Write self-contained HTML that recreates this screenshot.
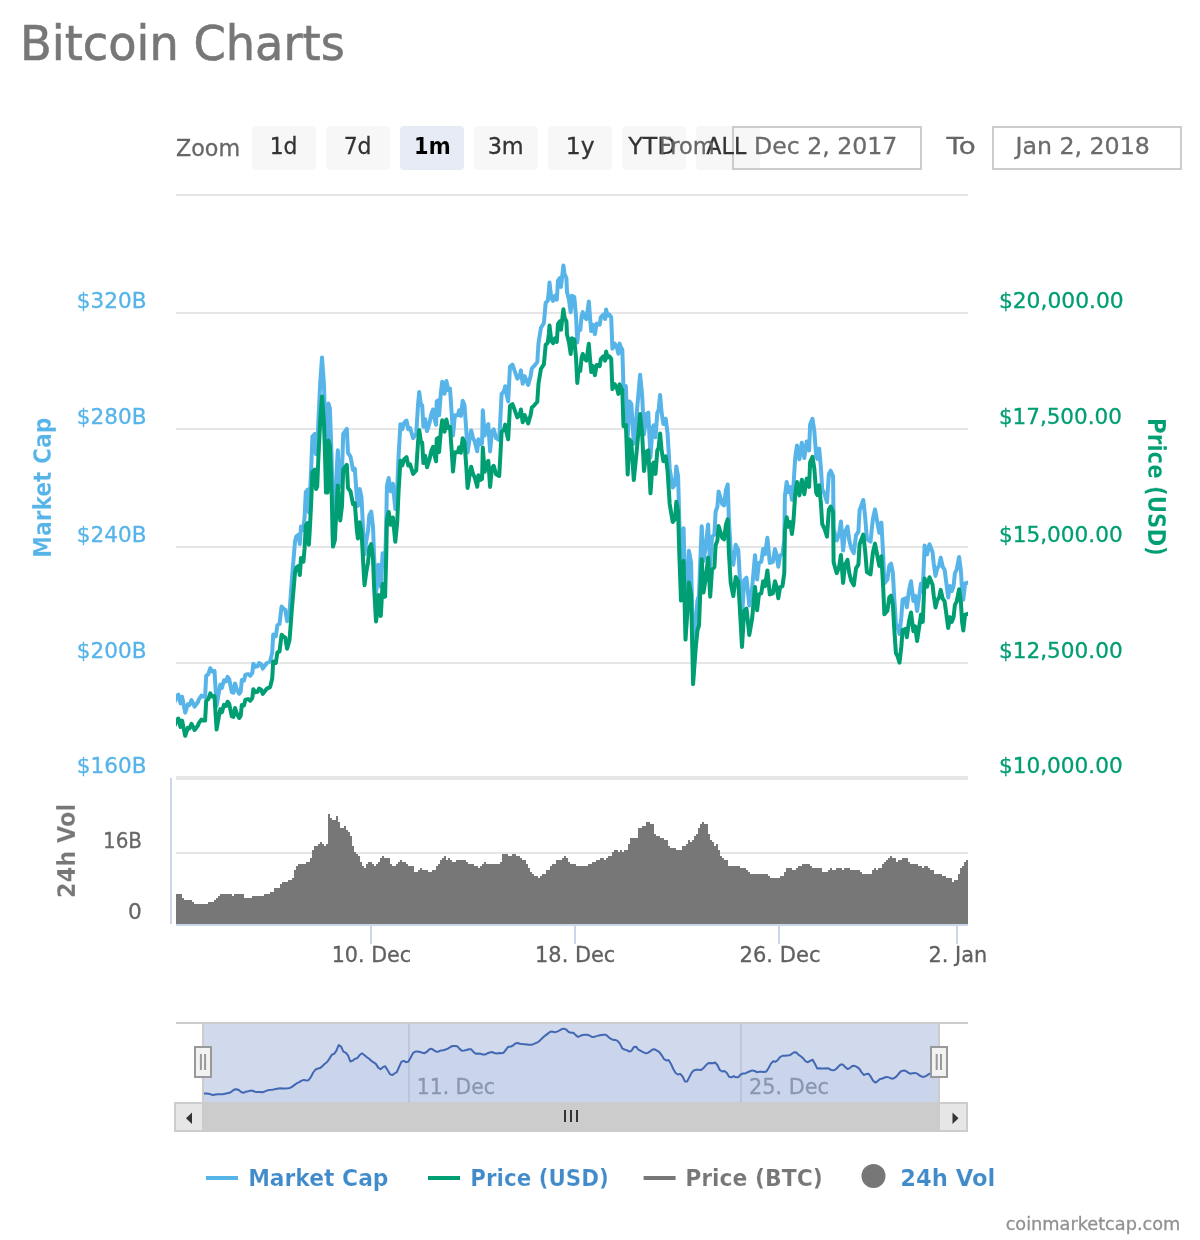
<!DOCTYPE html>
<html lang="en"><head><meta charset="utf-8"><title>Bitcoin Charts</title>
<style>html,body{margin:0;padding:0;background:#fff}svg{display:block;will-change:transform;transform:translateZ(0)}</style></head>
<body>
<svg role="img" aria-label="Bitcoin Charts" width="1200" height="1240" viewBox="0 0 1200 1240" font-family="'DejaVu Sans','Liberation Sans',sans-serif">
<rect width="1200" height="1240" fill="#fff"/>
<g id="rs"><rect x="252" y="126" width="64" height="44" rx="4" fill="#f7f7f7"/><rect x="326" y="126" width="64" height="44" rx="4" fill="#f7f7f7"/><rect x="400" y="126" width="64" height="44" rx="4" fill="#e6ebf5"/><rect x="474" y="126" width="64" height="44" rx="4" fill="#f7f7f7"/><rect x="548" y="126" width="64" height="44" rx="4" fill="#f7f7f7"/><rect x="622" y="126" width="64" height="44" rx="4" fill="#f7f7f7"/><rect x="696" y="126" width="64" height="44" rx="4" fill="#f7f7f7"/>
<rect x="733" y="127" width="188" height="42" fill="none" stroke="#ccc" stroke-width="2"/>
<rect x="993" y="127" width="188" height="42" fill="none" stroke="#ccc" stroke-width="2"/>
</g>
<g id="grid"><rect x="176" y="194" width="792" height="2" fill="#e6e6e6"/><rect x="176" y="312" width="792" height="2" fill="#e6e6e6"/><rect x="176" y="428" width="792" height="2" fill="#e6e6e6"/><rect x="176" y="546" width="792" height="2" fill="#e6e6e6"/><rect x="176" y="662" width="792" height="2" fill="#e6e6e6"/><rect x="176" y="776" width="792" height="4" fill="#e6e6e6"/><rect x="176" y="852" width="792" height="2" fill="#e6e6e6"/></g>
<rect x="170" y="778" width="2" height="146" fill="#ccd6eb"/>
<path d="M176 924V894H178V894H180V894H182V898H184V900H186V900H188V900H190V900H192V902H194V904H196V904H198V904H200V904H202V904H204V904H206V904H208V902H210V902H212V902H214V900H216V898H218V896H220V894H222V894H224V894H226V894H228V894H230V894H232V896H234V894H236V894H238V894H240V894H242V894H244V898H246V898H248V898H250V898H252V896H254V896H256V896H258V896H260V896H262V896H264V894H266V894H268V894H270V892H272V892H274V888H276V888H278V888H280V884H282V882H284V882H286V882H288V880H290V880H292V878H294V870H296V866H298V864H300V864H302V864H304V864H306V862H308V862H310V858H312V850H314V846H316V846H318V844H320V842H322V844H324V846H326V844H328V814H330V818H332V820H334V820H336V816H338V822H340V828H342V828H344V826H346V830H348V832H350V836H352V846H354V852H356V854H358V856H360V862H362V866H364V868H366V864H368V862H370V862H372V864H374V866H376V864H378V862H380V858H382V856H384V858H386V858H388V858H390V864H392V866H394V866H396V864H398V862H400V860H402V862H404V862H406V864H408V866H410V866H412V866H414V872H416V872H418V870H420V868H422V870H424V870H426V870H428V872H430V872H432V870H434V870H436V866H438V864H440V860H442V858H444V856H446V860H448V858H450V860H452V862H454V862H456V860H458V860H460V860H462V860H464V860H466V862H468V864H470V864H472V864H474V866H476V866H478V868H480V866H482V864H484V862H486V864H488V864H490V864H492V864H494V864H496V864H498V864H500V862H502V854H504V854H506V854H508V856H510V856H512V854H514V854H516V856H518V856H520V858H522V860H524V860H526V864H528V868H530V872H532V874H534V876H536V876H538V878H540V876H542V874H544V874H546V870H548V870H550V866H552V864H554V864H556V860H558V860H560V860H562V858H564V856H566V858H568V862H570V864H572V864H574V864H576V866H578V866H580V866H582V866H584V866H586V866H588V864H590V864H592V862H594V862H596V860H598V860H600V858H602V858H604V860H606V858H608V856H610V856H612V852H614V850H616V850H618V852H620V850H622V852H624V850H626V850H628V844H630V838H632V838H634V838H636V838H638V828H640V828H642V826H644V826H646V822H648V822H650V824H652V824H654V834H656V836H658V836H660V838H662V838H664V840H666V840H668V846H670V848H672V848H674V848H676V850H678V850H680V850H682V846H684V846H686V844H688V840H690V842H692V840H694V836H696V834H698V828H700V824H702V822H704V824H706V824H708V834H710V840H712V842H714V846H716V844H718V850H720V856H722V858H724V860H726V860H728V866H730V866H732V866H734V866H736V866H738V866H740V868H742V868H744V868H746V870H748V872H750V874H752V874H754V874H756V874H758V874H760V874H762V874H764V874H766V874H768V876H770V878H772V878H774V878H776V878H778V878H780V876H782V876H784V872H786V868H788V868H790V868H792V870H794V870H796V868H798V866H800V866H802V864H804V864H806V864H808V864H810V866H812V868H814V868H816V868H818V868H820V868H822V872H824V872H826V872H828V870H830V868H832V870H834V870H836V868H838V868H840V868H842V870H844V868H846V868H848V868H850V870H852V870H854V870H856V870H858V870H860V872H862V874H864V874H866V874H868V874H870V874H872V870H874V868H876V870H878V868H880V868H882V864H884V862H886V860H888V858H890V856H892V858H894V858H896V862H898V860H900V860H902V858H904V858H906V858H908V862H910V864H912V864H914V864H916V864H918V866H920V866H922V868H924V866H926V866H928V868H930V870H932V870H934V874H936V874H938V874H940V874H942V876H944V876H946V878H948V878H950V878H952V882H954V880H956V880H958V874H960V868H962V866H964V862H966V860H968V924Z" fill="#777"/>
<rect x="176" y="924" width="792" height="2" fill="#ccd6eb"/>
<rect x="370" y="925" width="2" height="19" fill="#ccd6eb"/><rect x="574" y="925" width="2" height="19" fill="#ccd6eb"/><rect x="778" y="925" width="2" height="19" fill="#ccd6eb"/><rect x="956" y="925" width="2" height="19" fill="#ccd6eb"/>
<clipPath id="plot"><rect x="176" y="196" width="792" height="582"/></clipPath>
<g clip-path="url(#plot)">
<path d="M174.0 703.4 L177.3 695.7 L178.4 694.6 L180.5 703.4 L182.1 696.8 L185.2 712.6 L187.8 704.4 L189.4 705.0 L191.5 700.0 L194.6 706.6 L197.8 702.2 L198.8 699.5 L201.4 695.6 L203.5 696.7 L205.1 696.7 L206.2 675.9 L208.3 674.2 L210.3 668.2 L211.9 671.5 L214.5 670.9 L216.6 706.0 L218.7 693.4 L220.3 684.6 L221.9 687.9 L224.0 680.2 L226.1 681.3 L227.6 676.9 L229.2 679.1 L231.8 692.2 L233.4 692.8 L235.0 683.4 L237.1 690.0 L239.2 693.8 L240.7 691.6 L241.8 680.1 L243.9 680.7 L245.5 674.6 L248.1 674.1 L250.2 675.7 L252.3 673.0 L253.3 663.7 L255.4 666.9 L257.5 666.4 L259.1 663.1 L261.2 664.2 L262.7 668.6 L264.8 665.8 L266.9 663.1 L270.1 661.4 L272.2 652.6 L273.2 634.6 L275.8 636.2 L277.4 625.2 L279.5 624.1 L281.6 606.6 L283.7 608.8 L285.3 609.9 L287.1 621.3 L289.5 612.4 L291.9 579.5 L295.0 541.6 L296.2 536.5 L298.6 534.6 L299.8 544.1 L301.0 526.4 L303.4 530.2 L304.6 516.3 L305.8 492.2 L307.6 489.7 L308.9 512.5 L310.1 491.0 L311.3 465.7 L312.4 436.5 L314.8 433.9 L316.0 454.2 L317.2 451.6 L318.4 421.3 L320.2 383.3 L322.0 357.4 L323.9 383.3 L325.1 421.2 L326.0 457.9 L327.5 457.9 L328.5 403.5 L329.9 408.6 L331.7 459.2 L332.6 502.1 L333.0 514.3 L334.9 507.3 L336.6 471.8 L337.8 450.3 L339.0 471.8 L340.2 486.9 L342.0 471.8 L343.2 433.8 L346.8 428.8 L348.0 452.8 L350.5 456.6 L353.0 469.9 L354.8 468.6 L356.7 495.2 L357.9 505.9 L359.7 488.9 L361.5 497.7 L363.3 533.1 L364.5 554.6 L366.3 540.7 L368.1 530.6 L369.3 515.4 L371.2 511.6 L373.0 526.7 L374.2 558.4 L376.0 592.5 L377.2 583.6 L378.4 564.7 L379.6 571.0 L380.8 586.8 L382.6 553.3 L383.9 554.5 L385.1 566.5 L386.3 520.4 L386.9 486.2 L388.7 478.0 L390.5 491.3 L392.9 483.7 L395.3 509.0 L397.2 488.7 L398.6 455.9 L400.4 424.3 L402.3 429.3 L404.1 423.0 L406.5 420.5 L408.3 429.3 L410.1 428.0 L413.1 438.1 L416.2 434.3 L418.0 405.3 L419.2 392.0 L421.0 405.3 L422.2 405.2 L423.4 426.7 L425.2 419.1 L427.0 431.1 L429.5 422.9 L431.3 414.1 L433.1 409.6 L434.3 417.9 L436.1 424.8 L436.7 401.4 L438.5 400.1 L439.1 415.3 L440.9 392.5 L442.2 381.8 L444.6 393.8 L446.4 381.1 L448.2 390.0 L450.0 388.7 L451.8 415.3 L453.0 435.5 L454.9 415.3 L457.9 415.2 L459.1 410.2 L460.9 415.9 L462.7 400.7 L464.5 405.1 L466.3 430.4 L467.6 452.5 L469.4 440.5 L471.2 430.4 L473.0 438.0 L474.8 441.7 L477.2 451.2 L478.4 439.2 L480.2 444.3 L482.1 443.0 L482.8 410.3 L484.7 435.6 L486.5 426.8 L488.3 424.2 L490.1 451.4 L491.9 431.8 L493.7 429.3 L496.1 438.1 L499.2 440.0 L500.4 417.9 L501.6 393.8 L504.0 391.3 L505.2 386.2 L506.4 393.8 L508.2 401.4 L510.0 366.6 L512.5 364.7 L514.3 369.8 L517.3 378.6 L519.7 376.1 L520.9 370.4 L522.7 383.7 L524.6 376.1 L528.2 384.9 L530.6 376.1 L531.8 368.5 L534.2 365.9 L537.3 362.1 L538.5 343.2 L540.9 328.0 L543.9 322.9 L545.7 302.7 L547.7 300.9 L548.9 290.7 L549.5 282.5 L551.3 298.3 L553.1 300.8 L555.0 295.8 L556.8 299.6 L558.0 280.6 L559.8 278.1 L561.0 286.9 L563.4 265.4 L564.6 274.2 L566.4 278.0 L567.0 291.9 L568.9 299.5 L570.7 312.2 L571.9 295.7 L574.3 297.0 L576.1 317.2 L577.3 342.5 L578.5 328.6 L580.3 329.8 L581.6 315.9 L582.8 312.1 L584.6 317.2 L586.4 319.1 L587.6 310.8 L588.8 301.4 L590.0 317.2 L591.2 331.1 L593.0 324.7 L594.9 334.2 L596.7 323.5 L599.7 324.7 L600.9 317.1 L603.3 314.6 L605.1 319.0 L606.1 309.5 L607.6 315.8 L609.4 314.6 L611.2 317.1 L612.4 348.7 L614.8 343.6 L617.2 348.7 L618.4 353.7 L619.6 343.6 L621.5 348.7 L622.3 349.5 L623.5 387.5 L625.9 386.2 L627.7 438.0 L629.5 401.4 L631.3 403.9 L633.8 443.7 L636.2 419.0 L638.0 398.8 L640.1 374.8 L642.2 396.3 L644.0 434.2 L646.5 413.9 L648.3 412.7 L650.5 457.5 L652.5 427.8 L653.7 425.3 L655.5 437.3 L657.3 412.6 L658.6 410.1 L660.1 394.9 L661.6 412.6 L663.4 424.0 L665.8 418.9 L667.6 434.1 L669.7 468.7 L672.7 487.5 L675.1 484.0 L676.3 466.4 L678.1 476.4 L679.3 520.9 L681.0 569.7 L683.6 528.2 L685.5 610.4 L687.5 579.5 L688.9 550.8 L691.1 562.6 L693.1 657.0 L695.7 619.2 L697.5 600.3 L699.0 595.6 L700.3 560.6 L701.7 526.3 L703.5 561.1 L706.0 544.6 L708.1 524.4 L710.2 565.5 L712.0 537.0 L714.4 534.4 L715.6 511.7 L717.4 506.7 L718.6 491.5 L720.5 497.8 L722.3 504.1 L724.1 505.4 L725.9 490.1 L727.7 484.5 L728.9 519.3 L730.7 550.9 L733.3 564.7 L735.7 544.8 L738.3 550.0 L740.3 586.1 L742.0 618.0 L744.2 580.1 L746.5 577.7 L749.3 605.4 L752.1 588.3 L755.0 555.2 L757.1 579.5 L758.9 563.1 L761.3 561.8 L763.1 549.1 L765.0 554.2 L767.4 537.8 L769.8 563.0 L772.8 561.8 L775.0 549.1 L776.4 554.2 L778.3 566.8 L780.1 555.4 L782.5 554.1 L784.3 540.2 L784.9 496.0 L786.7 482.1 L788.5 492.2 L790.3 487.1 L791.9 499.7 L793.4 487.1 L795.2 458.0 L797.0 445.4 L799.4 459.3 L801.8 442.8 L804.3 458.0 L806.7 441.5 L809.1 450.4 L810.1 424.6 L812.5 418.9 L814.3 431.0 L816.2 456.2 L817.4 458.8 L819.2 448.6 L821.0 468.9 L822.2 489.1 L824.6 494.1 L827.0 502.3 L828.9 473.9 L830.7 470.7 L833.1 476.4 L833.6 529.1 L836.7 540.5 L839.1 534.2 L840.9 521.5 L843.1 550.6 L845.1 531.6 L847.5 526.6 L849.3 540.5 L851.2 548.0 L853.8 553.1 L856.0 535.4 L858.4 531.6 L859.6 510.1 L863.3 500.0 L865.1 516.4 L866.9 539.1 L870.5 541.7 L872.9 518.9 L875.0 509.4 L877.2 521.4 L879.3 532.8 L881.4 522.6 L883.2 555.5 L884.4 583.3 L887.4 579.5 L889.3 565.6 L891.1 563.7 L892.9 573.2 L894.1 595.9 L895.9 623.7 L897.7 627.5 L899.5 633.9 L901.3 617.4 L902.6 599.7 L905.6 598.4 L906.8 607.3 L909.2 589.6 L911.0 581.3 L913.4 600.9 L915.2 595.9 L917.1 611.0 L919.2 596.2 L921.0 583.5 L922.8 591.1 L924.6 545.6 L927.0 554.4 L929.5 544.3 L932.5 551.9 L933.7 563.3 L935.5 575.9 L937.3 568.3 L939.1 565.8 L940.7 557.6 L942.8 567.0 L944.6 569.6 L946.4 583.5 L948.2 597.4 L950.0 586.0 L951.8 591.0 L953.6 586.0 L954.9 573.3 L956.7 569.5 L959.1 556.9 L960.9 570.8 L962.1 591.0 L963.3 599.8 L965.1 583.4 L970.0 582.1" fill="none" stroke="#56b4e9" stroke-width="4" stroke-linejoin="round" stroke-linecap="round"/>
<path d="M174.0 726.9 L177.3 719.6 L178.4 718.5 L180.5 726.9 L182.1 720.6 L185.2 735.8 L187.8 727.9 L189.4 728.5 L191.5 723.8 L194.6 730.0 L197.8 725.8 L198.8 723.2 L201.4 719.6 L203.5 720.6 L205.1 720.6 L206.2 700.7 L208.3 699.1 L210.3 693.4 L211.9 696.5 L214.5 696.0 L216.6 729.5 L218.7 717.5 L220.3 709.1 L221.9 712.2 L224.0 704.9 L226.1 705.9 L227.6 701.7 L229.2 703.8 L231.8 716.4 L233.4 716.9 L235.0 708.0 L237.1 714.3 L239.2 718.0 L240.7 715.9 L241.8 704.9 L243.9 705.4 L245.5 699.6 L248.1 699.1 L250.2 700.7 L252.3 698.1 L253.3 689.2 L255.4 692.3 L257.5 691.8 L259.1 688.6 L261.2 689.7 L262.7 693.9 L264.8 691.3 L266.9 688.6 L270.1 687.1 L272.2 678.7 L273.2 661.4 L275.8 663.0 L277.4 652.5 L279.5 651.4 L281.6 634.7 L283.7 636.8 L285.3 637.8 L287.1 648.7 L289.5 640.3 L291.9 608.8 L295.0 572.6 L296.2 567.7 L298.6 565.9 L299.8 575.0 L301.0 558.0 L303.4 561.7 L304.6 548.4 L305.8 525.4 L307.6 523.0 L308.9 544.7 L310.1 524.2 L311.3 500.0 L312.4 472.1 L314.8 469.6 L316.0 489.0 L317.2 486.6 L318.4 457.6 L320.2 421.3 L322.0 396.5 L323.9 421.3 L325.1 457.6 L326.0 492.6 L327.5 492.6 L328.5 440.6 L329.9 445.5 L331.7 493.8 L332.6 534.9 L333.0 546.6 L334.9 539.9 L336.6 505.9 L337.8 485.4 L339.0 505.9 L340.2 520.4 L342.0 505.9 L343.2 469.6 L346.8 464.8 L348.0 487.8 L350.5 491.4 L353.0 504.2 L354.8 503.0 L356.7 528.4 L357.9 538.6 L359.7 522.3 L361.5 530.8 L363.3 564.6 L364.5 585.2 L366.3 571.9 L368.1 562.2 L369.3 547.7 L371.2 544.1 L373.0 558.6 L374.2 588.8 L376.0 621.5 L377.2 613.0 L378.4 594.9 L379.6 600.9 L380.8 616.0 L382.6 584.0 L383.9 585.2 L385.1 596.7 L386.3 552.6 L386.9 519.9 L388.7 512.0 L390.5 524.7 L392.9 517.5 L395.3 541.7 L397.2 522.3 L398.6 490.9 L400.4 460.7 L402.3 465.5 L404.1 459.5 L406.5 457.1 L408.3 465.5 L410.1 464.3 L413.1 474.0 L416.2 470.4 L418.0 442.6 L419.2 429.9 L421.0 442.6 L422.2 442.6 L423.4 463.1 L425.2 455.9 L427.0 467.3 L429.5 459.5 L431.3 451.0 L433.1 446.8 L434.3 454.6 L436.1 461.3 L436.7 438.9 L438.5 437.7 L439.1 452.2 L440.9 430.5 L442.2 420.2 L444.6 431.7 L446.4 419.6 L448.2 428.0 L450.0 426.8 L451.8 452.2 L453.0 471.6 L454.9 452.2 L457.9 452.2 L459.1 447.4 L460.9 452.8 L462.7 438.3 L464.5 442.6 L466.3 466.7 L467.6 487.9 L469.4 476.4 L471.2 466.7 L473.0 474.0 L474.8 477.6 L477.2 486.7 L478.4 475.2 L480.2 480.0 L482.1 478.8 L482.8 447.6 L484.7 471.8 L486.5 463.3 L488.3 460.9 L490.1 486.9 L491.9 468.2 L493.7 465.8 L496.1 474.2 L499.2 476.0 L500.4 454.9 L501.6 431.9 L504.0 429.5 L505.2 424.6 L506.4 431.9 L508.2 439.2 L510.0 405.9 L512.5 404.1 L514.3 408.9 L517.3 417.4 L519.7 415.0 L520.9 409.5 L522.7 422.2 L524.6 415.0 L528.2 423.4 L530.6 415.0 L531.8 407.7 L534.2 405.3 L537.3 401.7 L538.5 383.5 L540.9 369.0 L543.9 364.2 L545.7 344.8 L547.7 343.1 L548.9 333.4 L549.5 325.6 L551.3 340.7 L553.1 343.1 L555.0 338.3 L556.8 341.9 L558.0 323.8 L559.8 321.3 L561.0 329.8 L563.4 309.3 L564.6 317.7 L566.4 321.3 L567.0 334.6 L568.9 341.9 L570.7 354.0 L571.9 338.3 L574.3 339.5 L576.1 358.8 L577.3 383.0 L578.5 369.7 L580.3 370.9 L581.6 357.6 L582.8 354.0 L584.6 358.8 L586.4 360.6 L587.6 352.8 L588.8 343.7 L590.0 358.8 L591.2 372.1 L593.0 366.1 L594.9 375.2 L596.7 364.9 L599.7 366.1 L600.9 358.8 L603.3 356.4 L605.1 360.6 L606.1 351.6 L607.6 357.6 L609.4 356.4 L611.2 358.8 L612.4 389.1 L614.8 384.2 L617.2 389.1 L618.4 393.9 L619.6 384.2 L621.5 389.1 L622.3 389.9 L623.5 426.2 L625.9 425.0 L627.7 474.5 L629.5 439.5 L631.3 441.9 L633.8 480.0 L636.2 456.4 L638.0 437.1 L640.1 414.1 L642.2 434.6 L644.0 470.9 L646.5 451.6 L648.3 450.4 L650.5 493.3 L652.5 464.9 L653.7 462.5 L655.5 473.9 L657.3 450.4 L658.6 447.9 L660.1 433.4 L661.6 450.4 L663.4 461.2 L665.8 456.4 L667.6 470.9 L669.7 504.0 L672.7 522.0 L675.1 518.7 L676.3 501.8 L678.1 511.4 L679.3 554.0 L681.0 600.6 L683.6 561.0 L685.5 639.6 L687.5 610.0 L688.9 582.6 L691.1 593.9 L693.1 684.2 L695.7 648.0 L697.5 630.0 L699.0 625.5 L700.3 592.0 L701.7 559.2 L703.5 592.5 L706.0 576.7 L708.1 557.4 L710.2 596.7 L712.0 569.5 L714.4 567.0 L715.6 545.3 L717.4 540.5 L718.6 526.0 L720.5 532.0 L722.3 538.0 L724.1 539.3 L725.9 524.7 L727.7 519.3 L728.9 552.6 L730.7 582.8 L733.3 596.0 L735.7 577.0 L738.3 582.0 L740.3 616.5 L742.0 647.0 L744.2 610.8 L746.5 608.5 L749.3 635.0 L752.1 618.7 L755.0 587.0 L757.1 610.3 L758.9 594.5 L761.3 593.3 L763.1 581.2 L765.0 586.1 L767.4 570.4 L769.8 594.5 L772.8 593.3 L775.0 581.2 L776.4 586.1 L778.3 598.2 L780.1 587.3 L782.5 586.1 L784.3 572.8 L784.9 530.5 L786.7 517.2 L788.5 526.8 L790.3 522.0 L791.9 534.1 L793.4 522.0 L795.2 494.2 L797.0 482.1 L799.4 495.4 L801.8 479.7 L804.3 494.2 L806.7 478.5 L809.1 486.9 L810.1 462.3 L812.5 456.9 L814.3 468.4 L816.2 492.6 L817.4 495.0 L819.2 485.3 L821.0 504.6 L822.2 524.0 L824.6 528.8 L827.0 536.7 L828.9 509.5 L830.7 506.5 L833.1 511.9 L833.6 562.3 L836.7 573.2 L839.1 567.2 L840.9 555.1 L843.1 582.9 L845.1 564.7 L847.5 559.9 L849.3 573.2 L851.2 580.5 L853.8 585.3 L856.0 568.4 L858.4 564.7 L859.6 544.2 L863.3 534.5 L865.1 550.2 L866.9 572.0 L870.5 574.4 L872.9 552.6 L875.0 543.6 L877.2 555.1 L879.3 565.9 L881.4 556.3 L883.2 587.7 L884.4 614.3 L887.4 610.7 L889.3 597.4 L891.1 595.6 L892.9 604.6 L894.1 626.4 L895.9 653.0 L897.7 656.6 L899.5 662.7 L901.3 647.0 L902.6 630.0 L905.6 628.8 L906.8 637.3 L909.2 620.4 L911.0 612.5 L913.4 631.2 L915.2 626.4 L917.1 640.9 L919.2 626.7 L921.0 614.6 L922.8 621.9 L924.6 578.4 L927.0 586.8 L929.5 577.2 L932.5 584.4 L933.7 595.3 L935.5 607.4 L937.3 600.1 L939.1 597.7 L940.7 589.9 L942.8 598.9 L944.6 601.3 L946.4 614.6 L948.2 627.9 L950.0 617.1 L951.8 621.9 L953.6 617.1 L954.9 605.0 L956.7 601.3 L959.1 589.3 L960.9 602.6 L962.1 621.9 L963.3 630.4 L965.1 614.6 L970.0 613.4" fill="none" stroke="#009e73" stroke-width="4" stroke-linejoin="round" stroke-linecap="round"/>
</g>
<g id="nav">
<rect x="408" y="1024" width="2" height="78" fill="#e6e6e6"/><rect x="740" y="1024" width="2" height="78" fill="#e6e6e6"/>
<path d="M204.0 1093.5 L206.3 1093.4 L208.6 1093.7 L211.0 1094.4 L213.3 1094.9 L215.6 1094.5 L217.9 1094.2 L220.3 1094.3 L222.6 1094.3 L224.9 1093.8 L227.2 1093.3 L229.6 1092.8 L231.9 1091.3 L234.2 1089.6 L236.5 1089.2 L238.8 1090.0 L241.2 1092.0 L243.5 1092.8 L245.8 1091.7 L248.1 1091.2 L250.5 1090.6 L252.8 1090.8 L255.1 1091.7 L257.4 1092.0 L259.8 1092.0 L262.1 1092.3 L264.4 1091.7 L266.7 1090.6 L269.1 1090.0 L271.4 1089.8 L273.7 1089.5 L276.0 1088.9 L278.3 1088.5 L280.7 1088.3 L283.0 1088.4 L285.3 1088.5 L287.6 1088.3 L290.0 1087.9 L292.3 1086.6 L294.6 1084.9 L296.9 1083.2 L299.3 1082.1 L301.6 1080.6 L303.9 1079.9 L306.2 1080.5 L308.5 1080.2 L310.9 1077.0 L313.2 1072.5 L315.5 1069.5 L317.8 1068.6 L320.2 1068.1 L322.5 1066.0 L324.8 1063.7 L327.1 1062.0 L329.5 1058.6 L331.8 1054.7 L334.1 1053.9 L336.4 1050.6 L338.7 1045.1 L341.1 1046.7 L343.4 1051.7 L345.7 1052.7 L348.0 1055.4 L350.4 1061.5 L352.7 1060.6 L355.0 1058.8 L357.3 1058.1 L359.7 1055.0 L362.0 1053.3 L364.3 1055.0 L366.6 1057.1 L368.9 1058.5 L371.3 1060.9 L373.6 1062.4 L375.9 1063.9 L378.2 1067.6 L380.6 1069.3 L382.9 1067.1 L385.2 1066.3 L387.5 1070.1 L389.9 1074.1 L392.2 1075.1 L394.5 1073.5 L396.8 1072.2 L399.2 1066.6 L401.5 1061.7 L403.8 1060.9 L406.1 1062.2 L408.4 1061.6 L410.8 1057.2 L413.1 1052.9 L415.4 1051.6 L417.7 1051.5 L420.1 1051.9 L422.4 1052.7 L424.7 1053.2 L427.0 1051.7 L429.4 1049.2 L431.7 1048.7 L434.0 1050.4 L436.3 1051.7 L438.6 1051.5 L441.0 1050.4 L443.3 1050.3 L445.6 1049.5 L447.9 1048.6 L450.3 1047.0 L452.6 1046.0 L454.9 1046.0 L457.2 1046.2 L459.6 1048.9 L461.9 1050.7 L464.2 1050.5 L466.5 1050.0 L468.8 1049.2 L471.2 1049.3 L473.5 1051.9 L475.8 1053.8 L478.1 1053.5 L480.5 1053.7 L482.8 1054.5 L485.1 1054.6 L487.4 1053.3 L489.8 1052.5 L492.1 1052.0 L494.4 1053.1 L496.7 1053.4 L499.1 1053.0 L501.4 1053.3 L503.7 1052.7 L506.0 1049.6 L508.3 1046.7 L510.7 1046.7 L513.0 1045.5 L515.3 1043.5 L517.6 1043.0 L520.0 1043.8 L522.3 1044.1 L524.6 1044.3 L526.9 1044.5 L529.3 1044.8 L531.6 1044.8 L533.9 1043.8 L536.2 1042.8 L538.5 1041.8 L540.9 1039.6 L543.2 1037.2 L545.5 1035.4 L547.8 1033.6 L550.2 1031.8 L552.5 1031.6 L554.8 1032.2 L557.1 1031.6 L559.5 1030.4 L561.8 1029.1 L564.1 1028.7 L566.4 1029.7 L568.7 1032.0 L571.1 1032.7 L573.4 1032.8 L575.7 1035.1 L578.0 1036.9 L580.4 1035.8 L582.7 1035.0 L585.0 1034.7 L587.3 1034.7 L589.7 1035.6 L592.0 1037.0 L594.3 1036.7 L596.6 1036.1 L598.9 1035.4 L601.3 1034.9 L603.6 1034.8 L605.9 1034.7 L608.2 1036.7 L610.6 1038.7 L612.9 1039.8 L615.2 1039.9 L617.5 1040.9 L619.9 1043.6 L622.2 1048.3 L624.5 1049.5 L626.8 1050.1 L629.2 1051.6 L631.5 1050.8 L633.8 1047.1 L636.1 1046.7 L638.4 1049.6 L640.8 1050.9 L643.1 1052.1 L645.4 1053.2 L647.7 1052.9 L650.1 1051.4 L652.4 1049.4 L654.7 1049.3 L657.0 1050.6 L659.4 1052.1 L661.7 1055.3 L664.0 1059.1 L666.3 1060.4 L668.6 1059.9 L671.0 1063.9 L673.3 1069.0 L675.6 1073.0 L677.9 1074.5 L680.3 1073.9 L682.6 1076.5 L684.9 1081.4 L687.2 1081.4 L689.6 1076.6 L691.9 1072.3 L694.2 1070.3 L696.5 1069.8 L698.8 1069.8 L701.2 1070.0 L703.5 1068.1 L705.8 1065.4 L708.1 1063.2 L710.5 1063.0 L712.8 1063.2 L715.1 1062.5 L717.4 1065.0 L719.8 1070.0 L722.1 1071.5 L724.4 1071.0 L726.7 1072.8 L729.1 1076.8 L731.4 1077.4 L733.7 1076.1 L736.0 1077.3 L738.3 1077.2 L740.7 1074.5 L743.0 1073.5 L745.3 1073.5 L747.6 1072.2 L750.0 1071.3 L752.3 1070.4 L754.6 1071.0 L756.9 1072.2 L759.3 1071.8 L761.6 1071.8 L763.9 1072.1 L766.2 1071.6 L768.5 1068.2 L770.9 1063.6 L773.2 1061.3 L775.5 1061.8 L777.8 1059.9 L780.2 1056.8 L782.5 1055.8 L784.8 1055.7 L787.1 1055.4 L789.5 1055.3 L791.8 1053.8 L794.1 1052.2 L796.4 1052.5 L798.7 1054.9 L801.1 1056.5 L803.4 1058.6 L805.7 1061.4 L808.0 1062.2 L810.4 1060.7 L812.7 1059.8 L815.0 1064.0 L817.3 1068.5 L819.7 1068.2 L822.0 1068.4 L824.3 1068.6 L826.6 1068.2 L828.9 1068.6 L831.3 1070.1 L833.6 1070.3 L835.9 1069.2 L838.2 1066.7 L840.6 1064.5 L842.9 1064.6 L845.2 1067.0 L847.5 1069.0 L849.9 1068.1 L852.2 1066.1 L854.5 1065.8 L856.8 1066.9 L859.2 1068.6 L861.5 1072.1 L863.8 1075.0 L866.1 1074.1 L868.4 1073.7 L870.8 1076.7 L873.1 1080.8 L875.4 1082.6 L877.7 1081.1 L880.1 1079.0 L882.4 1078.5 L884.7 1077.5 L887.0 1076.9 L889.4 1077.6 L891.7 1078.7 L894.0 1078.2 L896.3 1076.7 L898.6 1073.8 L901.0 1071.3 L903.3 1070.6 L905.6 1070.8 L907.9 1072.5 L910.3 1073.7 L912.6 1073.2 L914.9 1072.9 L917.2 1073.6 L919.6 1075.5 L921.9 1076.7 L924.2 1076.8 L926.5 1075.7 L928.8 1074.1 L931.2 1073.1 L933.5 1074.8 L935.8 1076.5 L938.1 1076.3 L940 1102 L204 1102Z" fill="#335cad" fill-opacity="0.05"/>
<path d="M204.0 1093.5 L206.3 1093.4 L208.6 1093.7 L211.0 1094.4 L213.3 1094.9 L215.6 1094.5 L217.9 1094.2 L220.3 1094.3 L222.6 1094.3 L224.9 1093.8 L227.2 1093.3 L229.6 1092.8 L231.9 1091.3 L234.2 1089.6 L236.5 1089.2 L238.8 1090.0 L241.2 1092.0 L243.5 1092.8 L245.8 1091.7 L248.1 1091.2 L250.5 1090.6 L252.8 1090.8 L255.1 1091.7 L257.4 1092.0 L259.8 1092.0 L262.1 1092.3 L264.4 1091.7 L266.7 1090.6 L269.1 1090.0 L271.4 1089.8 L273.7 1089.5 L276.0 1088.9 L278.3 1088.5 L280.7 1088.3 L283.0 1088.4 L285.3 1088.5 L287.6 1088.3 L290.0 1087.9 L292.3 1086.6 L294.6 1084.9 L296.9 1083.2 L299.3 1082.1 L301.6 1080.6 L303.9 1079.9 L306.2 1080.5 L308.5 1080.2 L310.9 1077.0 L313.2 1072.5 L315.5 1069.5 L317.8 1068.6 L320.2 1068.1 L322.5 1066.0 L324.8 1063.7 L327.1 1062.0 L329.5 1058.6 L331.8 1054.7 L334.1 1053.9 L336.4 1050.6 L338.7 1045.1 L341.1 1046.7 L343.4 1051.7 L345.7 1052.7 L348.0 1055.4 L350.4 1061.5 L352.7 1060.6 L355.0 1058.8 L357.3 1058.1 L359.7 1055.0 L362.0 1053.3 L364.3 1055.0 L366.6 1057.1 L368.9 1058.5 L371.3 1060.9 L373.6 1062.4 L375.9 1063.9 L378.2 1067.6 L380.6 1069.3 L382.9 1067.1 L385.2 1066.3 L387.5 1070.1 L389.9 1074.1 L392.2 1075.1 L394.5 1073.5 L396.8 1072.2 L399.2 1066.6 L401.5 1061.7 L403.8 1060.9 L406.1 1062.2 L408.4 1061.6 L410.8 1057.2 L413.1 1052.9 L415.4 1051.6 L417.7 1051.5 L420.1 1051.9 L422.4 1052.7 L424.7 1053.2 L427.0 1051.7 L429.4 1049.2 L431.7 1048.7 L434.0 1050.4 L436.3 1051.7 L438.6 1051.5 L441.0 1050.4 L443.3 1050.3 L445.6 1049.5 L447.9 1048.6 L450.3 1047.0 L452.6 1046.0 L454.9 1046.0 L457.2 1046.2 L459.6 1048.9 L461.9 1050.7 L464.2 1050.5 L466.5 1050.0 L468.8 1049.2 L471.2 1049.3 L473.5 1051.9 L475.8 1053.8 L478.1 1053.5 L480.5 1053.7 L482.8 1054.5 L485.1 1054.6 L487.4 1053.3 L489.8 1052.5 L492.1 1052.0 L494.4 1053.1 L496.7 1053.4 L499.1 1053.0 L501.4 1053.3 L503.7 1052.7 L506.0 1049.6 L508.3 1046.7 L510.7 1046.7 L513.0 1045.5 L515.3 1043.5 L517.6 1043.0 L520.0 1043.8 L522.3 1044.1 L524.6 1044.3 L526.9 1044.5 L529.3 1044.8 L531.6 1044.8 L533.9 1043.8 L536.2 1042.8 L538.5 1041.8 L540.9 1039.6 L543.2 1037.2 L545.5 1035.4 L547.8 1033.6 L550.2 1031.8 L552.5 1031.6 L554.8 1032.2 L557.1 1031.6 L559.5 1030.4 L561.8 1029.1 L564.1 1028.7 L566.4 1029.7 L568.7 1032.0 L571.1 1032.7 L573.4 1032.8 L575.7 1035.1 L578.0 1036.9 L580.4 1035.8 L582.7 1035.0 L585.0 1034.7 L587.3 1034.7 L589.7 1035.6 L592.0 1037.0 L594.3 1036.7 L596.6 1036.1 L598.9 1035.4 L601.3 1034.9 L603.6 1034.8 L605.9 1034.7 L608.2 1036.7 L610.6 1038.7 L612.9 1039.8 L615.2 1039.9 L617.5 1040.9 L619.9 1043.6 L622.2 1048.3 L624.5 1049.5 L626.8 1050.1 L629.2 1051.6 L631.5 1050.8 L633.8 1047.1 L636.1 1046.7 L638.4 1049.6 L640.8 1050.9 L643.1 1052.1 L645.4 1053.2 L647.7 1052.9 L650.1 1051.4 L652.4 1049.4 L654.7 1049.3 L657.0 1050.6 L659.4 1052.1 L661.7 1055.3 L664.0 1059.1 L666.3 1060.4 L668.6 1059.9 L671.0 1063.9 L673.3 1069.0 L675.6 1073.0 L677.9 1074.5 L680.3 1073.9 L682.6 1076.5 L684.9 1081.4 L687.2 1081.4 L689.6 1076.6 L691.9 1072.3 L694.2 1070.3 L696.5 1069.8 L698.8 1069.8 L701.2 1070.0 L703.5 1068.1 L705.8 1065.4 L708.1 1063.2 L710.5 1063.0 L712.8 1063.2 L715.1 1062.5 L717.4 1065.0 L719.8 1070.0 L722.1 1071.5 L724.4 1071.0 L726.7 1072.8 L729.1 1076.8 L731.4 1077.4 L733.7 1076.1 L736.0 1077.3 L738.3 1077.2 L740.7 1074.5 L743.0 1073.5 L745.3 1073.5 L747.6 1072.2 L750.0 1071.3 L752.3 1070.4 L754.6 1071.0 L756.9 1072.2 L759.3 1071.8 L761.6 1071.8 L763.9 1072.1 L766.2 1071.6 L768.5 1068.2 L770.9 1063.6 L773.2 1061.3 L775.5 1061.8 L777.8 1059.9 L780.2 1056.8 L782.5 1055.8 L784.8 1055.7 L787.1 1055.4 L789.5 1055.3 L791.8 1053.8 L794.1 1052.2 L796.4 1052.5 L798.7 1054.9 L801.1 1056.5 L803.4 1058.6 L805.7 1061.4 L808.0 1062.2 L810.4 1060.7 L812.7 1059.8 L815.0 1064.0 L817.3 1068.5 L819.7 1068.2 L822.0 1068.4 L824.3 1068.6 L826.6 1068.2 L828.9 1068.6 L831.3 1070.1 L833.6 1070.3 L835.9 1069.2 L838.2 1066.7 L840.6 1064.5 L842.9 1064.6 L845.2 1067.0 L847.5 1069.0 L849.9 1068.1 L852.2 1066.1 L854.5 1065.8 L856.8 1066.9 L859.2 1068.6 L861.5 1072.1 L863.8 1075.0 L866.1 1074.1 L868.4 1073.7 L870.8 1076.7 L873.1 1080.8 L875.4 1082.6 L877.7 1081.1 L880.1 1079.0 L882.4 1078.5 L884.7 1077.5 L887.0 1076.9 L889.4 1077.6 L891.7 1078.7 L894.0 1078.2 L896.3 1076.7 L898.6 1073.8 L901.0 1071.3 L903.3 1070.6 L905.6 1070.8 L907.9 1072.5 L910.3 1073.7 L912.6 1073.2 L914.9 1072.9 L917.2 1073.6 L919.6 1075.5 L921.9 1076.7 L924.2 1076.8 L926.5 1075.7 L928.8 1074.1 L931.2 1073.1 L933.5 1074.8 L935.8 1076.5 L938.1 1076.3" fill="none" stroke="#335cad" stroke-width="2" stroke-linejoin="round"/>
<rect x="203" y="1024" width="736" height="78" fill="#6685c2" fill-opacity="0.3"/>
<rect x="176" y="1022" width="792" height="2" fill="#ccc"/>
<rect x="202" y="1024" width="2" height="78" fill="#ccc"/><rect x="938" y="1024" width="2" height="78" fill="#ccc"/>
<rect x="174" y="1102" width="794" height="30" fill="#ccc"/>
<rect x="176" y="1104" width="26" height="26" fill="#e6e6e6"/><rect x="940" y="1104" width="26" height="26" fill="#e6e6e6"/>
<path d="M192 1112.5L192 1124L186 1118.2Z" fill="#333"/><path d="M952.5 1112.5L952.5 1124L958.5 1118.2Z" fill="#333"/>
<path d="M565 1110V1122M571 1110V1122M577 1110V1122" stroke="#333" stroke-width="2" fill="none"/>
<rect x="195" y="1047" width="16" height="30" fill="#f2f2f2" stroke="#999" stroke-width="2"/>
<path d="M200.9 1054V1070M205.1 1054V1070" stroke="#999" stroke-width="2"/>
<rect x="931" y="1047" width="16" height="30" fill="#f2f2f2" stroke="#999" stroke-width="2"/>
<path d="M936.7 1054V1070M941 1054V1070" stroke="#999" stroke-width="2"/>
</g>
<g id="legend">
<rect x="206" y="1176" width="32" height="4" fill="#56b4e9"/>
<rect x="428" y="1176" width="32" height="4" fill="#009e73"/>
<rect x="643.6" y="1176" width="32" height="4" fill="#777"/>
<circle cx="873.5" cy="1176" r="12" fill="#777"/>
</g>
<g id="texts">
<text x="20.09" y="60" font-size="47.4" font-weight="normal" fill="#777" stroke="#777" stroke-width="0.6" textLength="324.66" lengthAdjust="spacingAndGlyphs">Bitcoin Charts</text>
<text x="176.03" y="155.9" font-size="23" font-weight="normal" fill="#666" stroke="#666" stroke-width="0.3" textLength="64.13" lengthAdjust="spacingAndGlyphs">Zoom</text>
<text x="269.70" y="154" font-size="23" font-weight="normal" fill="#333" stroke="#333" stroke-width="0.3" textLength="27.83" lengthAdjust="spacingAndGlyphs">1d</text>
<text x="343.65" y="154" font-size="23" font-weight="normal" fill="#333" stroke="#333" stroke-width="0.3" textLength="27.88" lengthAdjust="spacingAndGlyphs">7d</text>
<text x="487.63" y="154" font-size="23" font-weight="normal" fill="#333" stroke="#333" stroke-width="0.3" textLength="36.04" lengthAdjust="spacingAndGlyphs">3m</text>
<text x="565.76" y="154" font-size="23" font-weight="normal" fill="#333" stroke="#333" stroke-width="0.3" textLength="28.87" lengthAdjust="spacingAndGlyphs">1y</text>
<text x="628.33" y="154" font-size="23" font-weight="normal" fill="#333" stroke="#333" stroke-width="0.3" textLength="47.40" lengthAdjust="spacingAndGlyphs">YTD</text>
<text x="706.30" y="154" font-size="23" font-weight="normal" fill="#333" stroke="#333" stroke-width="0.3" textLength="40.02" lengthAdjust="spacingAndGlyphs">ALL</text>
<text x="413.74" y="154" font-size="23" font-weight="bold" fill="#000" stroke="#e6ebf5" stroke-width="0.2" textLength="37.16" lengthAdjust="spacingAndGlyphs">1m</text>
<text x="659.05" y="154" font-size="23" font-weight="normal" fill="#666" stroke="#666" stroke-width="0.3" textLength="55.62" lengthAdjust="spacingAndGlyphs">From</text>
<text x="946.41" y="154" font-size="23" font-weight="normal" fill="#666" stroke="#666" stroke-width="0.3" textLength="29.29" lengthAdjust="spacingAndGlyphs">To</text>
<text x="753.97" y="154.1" font-size="23.3" font-weight="normal" fill="#6b6b6b" stroke="#6b6b6b" stroke-width="0.3" textLength="143.38" lengthAdjust="spacingAndGlyphs">Dec 2, 2017</text>
<text x="1015.43" y="154.1" font-size="23.3" font-weight="normal" fill="#6b6b6b" stroke="#6b6b6b" stroke-width="0.3" textLength="134.40" lengthAdjust="spacingAndGlyphs">Jan 2, 2018</text>
<text x="76.81" y="308" font-size="21.8" font-weight="normal" fill="#56b4e9" stroke="#56b4e9" stroke-width="0.3" textLength="69.63" lengthAdjust="spacingAndGlyphs">$320B</text>
<text x="76.81" y="424" font-size="21.8" font-weight="normal" fill="#56b4e9" stroke="#56b4e9" stroke-width="0.3" textLength="69.63" lengthAdjust="spacingAndGlyphs">$280B</text>
<text x="76.81" y="542" font-size="21.8" font-weight="normal" fill="#56b4e9" stroke="#56b4e9" stroke-width="0.3" textLength="69.63" lengthAdjust="spacingAndGlyphs">$240B</text>
<text x="76.81" y="658" font-size="21.8" font-weight="normal" fill="#56b4e9" stroke="#56b4e9" stroke-width="0.3" textLength="69.63" lengthAdjust="spacingAndGlyphs">$200B</text>
<text x="76.81" y="773" font-size="21.8" font-weight="normal" fill="#56b4e9" stroke="#56b4e9" stroke-width="0.3" textLength="69.63" lengthAdjust="spacingAndGlyphs">$160B</text>
<text x="998.90" y="308" font-size="21.8" font-weight="normal" fill="#009e73" stroke="#009e73" stroke-width="0.3" textLength="124.77" lengthAdjust="spacingAndGlyphs">$20,000.00</text>
<text x="998.91" y="424" font-size="21.8" font-weight="normal" fill="#009e73" stroke="#009e73" stroke-width="0.3" textLength="122.94" lengthAdjust="spacingAndGlyphs">$17,500.00</text>
<text x="998.91" y="542" font-size="21.8" font-weight="normal" fill="#009e73" stroke="#009e73" stroke-width="0.3" textLength="123.75" lengthAdjust="spacingAndGlyphs">$15,000.00</text>
<text x="998.91" y="658" font-size="21.8" font-weight="normal" fill="#009e73" stroke="#009e73" stroke-width="0.3" textLength="123.75" lengthAdjust="spacingAndGlyphs">$12,500.00</text>
<text x="998.91" y="773" font-size="21.8" font-weight="normal" fill="#009e73" stroke="#009e73" stroke-width="0.3" textLength="123.75" lengthAdjust="spacingAndGlyphs">$10,000.00</text>
<text x="102.96" y="848" font-size="21.7" font-weight="normal" fill="#686868" stroke="#686868" stroke-width="0.3" textLength="39.05" lengthAdjust="spacingAndGlyphs">16B</text>
<text x="128.00" y="919.2" font-size="21.7" font-weight="normal" fill="#686868" stroke="#686868" stroke-width="0.3" textLength="13.80" lengthAdjust="spacingAndGlyphs">0</text>
<text x="331.71" y="962" font-size="21.9" font-weight="normal" fill="#606060" stroke="#606060" stroke-width="0.3" textLength="79.47" lengthAdjust="spacingAndGlyphs">10. Dec</text>
<text x="535.09" y="962" font-size="21.9" font-weight="normal" fill="#606060" stroke="#606060" stroke-width="0.3" textLength="80.19" lengthAdjust="spacingAndGlyphs">18. Dec</text>
<text x="739.54" y="962" font-size="21.9" font-weight="normal" fill="#606060" stroke="#606060" stroke-width="0.3" textLength="80.96" lengthAdjust="spacingAndGlyphs">26. Dec</text>
<text x="928.55" y="962" font-size="21.9" font-weight="normal" fill="#606060" stroke="#606060" stroke-width="0.3" textLength="58.58" lengthAdjust="spacingAndGlyphs">2. Jan</text>
<text x="416.74" y="1094" font-size="21.9" font-weight="normal" fill="#8a96b2" stroke="#8a96b2" stroke-width="0.3" textLength="78.22" lengthAdjust="spacingAndGlyphs">11. Dec</text>
<text x="749.05" y="1094" font-size="21.9" font-weight="normal" fill="#8a96b2" stroke="#8a96b2" stroke-width="0.3" textLength="79.93" lengthAdjust="spacingAndGlyphs">25. Dec</text>
<text x="248.13" y="1185.8" font-size="23.4" font-weight="bold" fill="#428bca" stroke="#fff" stroke-width="0.2" textLength="140.36" lengthAdjust="spacingAndGlyphs">Market Cap</text>
<text x="470.37" y="1185.8" font-size="23.4" font-weight="bold" fill="#428bca" stroke="#fff" stroke-width="0.2" textLength="138.48" lengthAdjust="spacingAndGlyphs">Price (USD)</text>
<text x="685.13" y="1185.8" font-size="23.4" font-weight="bold" fill="#777" stroke="#fff" stroke-width="0.2" textLength="137.66" lengthAdjust="spacingAndGlyphs">Price (BTC)</text>
<text x="900.23" y="1185.8" font-size="23.4" font-weight="bold" fill="#428bca" stroke="#fff" stroke-width="0.2" textLength="95.15" lengthAdjust="spacingAndGlyphs">24h Vol</text>
<text x="1005.64" y="1230" font-size="18.5" font-weight="normal" fill="#909090" stroke="#909090" stroke-width="0.3" textLength="174.73" lengthAdjust="spacingAndGlyphs">coinmarketcap.com</text>
<text transform="translate(51.2 557.72) rotate(-90)" font-size="24" font-weight="bold" fill="#56b4e9" stroke="#fff" stroke-width="0.2" textLength="140.08" lengthAdjust="spacingAndGlyphs">Market Cap</text>
<text transform="translate(1147.8 418.12) rotate(90)" font-size="24" font-weight="bold" fill="#009e73" stroke="#fff" stroke-width="0.2" textLength="137.72" lengthAdjust="spacingAndGlyphs">Price (USD)</text>
<text transform="translate(75 897.93) rotate(-90)" font-size="24" font-weight="bold" fill="#777" stroke="#fff" stroke-width="0.2" textLength="94.08" lengthAdjust="spacingAndGlyphs">24h Vol</text>
</g>
</svg>
</body></html>
